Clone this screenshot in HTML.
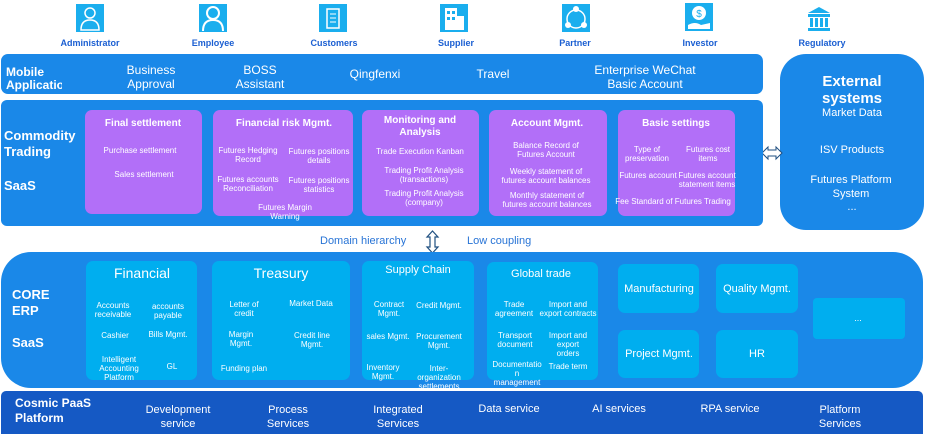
<!DOCTYPE html>
<html><head><meta charset="utf-8"><style>
*{margin:0;padding:0;box-sizing:border-box}
body{width:925px;height:434px;background:#fff;position:relative;overflow:hidden;font-family:"Liberation Sans",Arial,sans-serif;color:#fff}
.a{position:absolute}
.t{position:absolute;transform:translateX(-50%);text-align:center;white-space:nowrap;line-height:1.15}
.s{font-size:8px}
.blue{background:#1a88e8}
.pur{background:#b26ff8;border-radius:7px}
.lb{background:#00aeef;border-radius:7px}
.ic{position:absolute;width:28px;height:28px;background:#1aaeee}
.il{position:absolute;transform:translateX(-50%);font-size:9px;font-weight:bold;color:#1b5fd2;white-space:nowrap}
.b{font-weight:bold}
</style></head><body>

<!-- icons -->
<div class="ic" style="left:76px;top:4px"></div><div class="il" style="left:90px;top:38px">Administrator</div>
<div class="ic" style="left:199px;top:4px"></div><div class="il" style="left:213px;top:38px">Employee</div>
<div class="ic" style="left:319px;top:4px"></div><div class="il" style="left:334px;top:38px">Customers</div>
<div class="ic" style="left:440px;top:4px"></div><div class="il" style="left:456px;top:38px">Supplier</div>
<div class="ic" style="left:562px;top:4px"></div><div class="il" style="left:575px;top:38px">Partner</div>
<div class="ic" style="left:685px;top:3px"></div><div class="il" style="left:700px;top:38px">Investor</div>
<div class="ic" style="left:805px;top:4px;background:#fff"><svg width="28" height="28"><path d="M3 9 L14 3 L25 9 Z M3 10h22v3H3z M5 14h3v9H5z M10 14h3v9h-3z M15 14h3v9h-3z M20 14h3v9h-3z M3 24h22v3H3z" fill="#1aaeee"/></svg></div><div class="il" style="left:822px;top:38px">Regulatory</div>
<svg class="a" style="left:76px;top:4px" width="28" height="28"><circle cx="14" cy="9" r="5" fill="none" stroke="#fff" stroke-width="1.5"/><path d="M5 26 Q5 16 14 16 Q23 16 23 26 Z" fill="none" stroke="#fff" stroke-width="1.5"/></svg>
<svg class="a" style="left:199px;top:4px" width="28" height="28"><circle cx="14" cy="9" r="6" fill="none" stroke="#fff" stroke-width="2"/><path d="M4 27 Q4 16 14 16 Q24 16 24 27" fill="none" stroke="#fff" stroke-width="2"/></svg>
<svg class="a" style="left:319px;top:4px" width="28" height="28"><rect x="8" y="5" width="12" height="19" fill="none" stroke="#fff" stroke-width="1.5"/><path d="M11 10h6M11 14h6M11 18h6" stroke="#fff"/></svg>
<svg class="a" style="left:440px;top:4px" width="28" height="28"><rect x="5" y="4" width="12" height="22" fill="#fff"/><rect x="17" y="12" width="7" height="14" fill="#fff"/><path d="M7 7h3v3H7zM12 7h3v3h-3zM7 13h3v3H7zM12 13h3v3h-3z" fill="#1aaeee"/></svg>
<svg class="a" style="left:562px;top:4px" width="28" height="28"><circle cx="14" cy="15" r="9" fill="none" stroke="#fff" stroke-width="1.5"/><circle cx="14" cy="5" r="3" fill="#fff"/><circle cx="6" cy="21" r="3" fill="#fff"/><circle cx="22" cy="21" r="3" fill="#fff"/></svg>
<svg class="a" style="left:685px;top:3px" width="28" height="28"><circle cx="14" cy="10" r="7" fill="#fff"/><text x="14" y="14" font-size="10" fill="#1aaeee" text-anchor="middle" font-family="Liberation Sans">$</text><path d="M3 22 Q10 18 16 22 L25 20 L25 26 L3 26Z" fill="#fff"/></svg>

<!-- mobile bar -->
<div class="a blue" style="left:1px;top:54px;width:762px;height:40px;border-radius:7px"></div>
<div class="a b" style="left:6px;top:66px;font-size:12px;line-height:13px;width:56px;overflow:hidden;height:40px">Mobile Applicatio n</div>
<div class="t" style="left:151px;top:64px;font-size:12px">Business<br>Approval</div>
<div class="t" style="left:260px;top:64px;font-size:12px">BOSS<br>Assistant</div>
<div class="t" style="left:375px;top:68px;font-size:12px">Qingfenxi</div>
<div class="t" style="left:493px;top:68px;font-size:12px">Travel</div>
<div class="t" style="left:645px;top:64px;font-size:12px">Enterprise WeChat<br>Basic Account</div>

<!-- external -->
<div class="a blue" style="left:780px;top:54px;width:144px;height:176px;border-radius:26px"></div>
<div class="t b" style="left:852px;top:73px;font-size:15px;line-height:17px">External<br>systems</div>
<div class="t" style="left:852px;top:107px;font-size:11px">Market Data</div>
<div class="t" style="left:852px;top:144px;font-size:11px">ISV Products</div>
<div class="t" style="left:851px;top:173px;font-size:11px;line-height:14px">Futures Platform<br>System</div>
<div class="t" style="left:852px;top:201px;font-size:11px">...</div>
<svg class="a" style="left:761px;top:145px" width="22" height="16"><path d="M1 8 L7 2 V5 H15 V2 L21 8 L15 14 V11 H7 V14 Z" fill="#fff" stroke="#1f4f80" stroke-width="1"/></svg>

<!-- commodity -->
<div class="a blue" style="left:1px;top:100px;width:762px;height:126px;border-radius:6px"></div>
<div class="a b" style="left:4px;top:128px;font-size:13px;line-height:16px">Commodity<br>Trading</div>
<div class="a b" style="left:4px;top:178px;font-size:13px">SaaS</div>

<div class="a pur" style="left:85px;top:110px;width:117px;height:104px"></div>
<div class="t b" style="left:143px;top:118px;font-size:10px">Final settlement</div>
<div class="t s" style="left:140px;top:146px">Purchase settlement</div>
<div class="t s" style="left:144px;top:170px">Sales settlement</div>

<div class="a pur" style="left:213px;top:110px;width:140px;height:106px"></div>
<div class="t b" style="left:284px;top:118px;font-size:10px">Financial risk Mgmt.</div>
<div class="t s" style="left:248px;top:146px">Futures Hedging<br>Record</div>
<div class="t s" style="left:319px;top:147px">Futures positions<br>details</div>
<div class="t s" style="left:248px;top:175px">Futures accounts<br>Reconciliation</div>
<div class="t s" style="left:319px;top:176px">Futures positions<br>statistics</div>
<div class="t s" style="left:285px;top:203px">Futures Margin<br>Warning</div>

<div class="a pur" style="left:362px;top:110px;width:117px;height:106px"></div>
<div class="t b" style="left:420px;top:115px;font-size:10px;line-height:12px">Monitoring and<br>Analysis</div>
<div class="t s" style="left:420px;top:147px">Trade Execution Kanban</div>
<div class="t s" style="left:424px;top:166px">Trading Profit Analysis<br>(transactions)</div>
<div class="t s" style="left:424px;top:189px">Trading Profit Analysis<br>(company)</div>

<div class="a pur" style="left:489px;top:110px;width:118px;height:106px"></div>
<div class="t b" style="left:547px;top:118px;font-size:10px">Account Mgmt.</div>
<div class="t s" style="left:546px;top:141px">Balance Record  of<br>Futures Account</div>
<div class="t s" style="left:546px;top:167px">Weekly statement of<br>futures account balances</div>
<div class="t s" style="left:547px;top:191px">Monthly statement of<br>futures account balances</div>

<div class="a pur" style="left:618px;top:110px;width:117px;height:106px"></div>
<div class="t b" style="left:676px;top:118px;font-size:10px">Basic settings</div>
<div class="t s" style="left:647px;top:145px">Type of<br>preservation</div>
<div class="t s" style="left:708px;top:145px">Futures cost<br>items</div>
<div class="t s" style="left:648px;top:171px">Futures account</div>
<div class="t s" style="left:707px;top:171px">Futures account<br>statement items</div>
<div class="t s" style="left:673px;top:197px">Fee Standard of Futures Trading</div>

<!-- middle -->
<div class="a" style="left:320px;top:235px;font-size:11px;color:#2874d6">Domain hierarchy</div>
<svg class="a" style="left:425px;top:230px" width="15" height="24"><path d="M7.5 1 L13 7 H10 V17 H13 L7.5 23 L2 17 H5 V7 H2 Z" fill="#fff" stroke="#1f4f80" stroke-width="1.2"/></svg>
<div class="a" style="left:467px;top:235px;font-size:11px;color:#2874d6">Low coupling</div>

<!-- core erp -->
<div class="a blue" style="left:1px;top:252px;width:922px;height:136px;border-radius:30px"></div>
<div class="a b" style="left:12px;top:287px;font-size:13px;line-height:16px">CORE<br>ERP</div>
<div class="a b" style="left:12px;top:335px;font-size:13px">SaaS</div>

<div class="a lb" style="left:86px;top:261px;width:111px;height:119px"></div>
<div class="t" style="left:142px;top:265px;font-size:14px">Financial</div>
<div class="t s" style="left:113px;top:301px">Accounts<br>receivable</div>
<div class="t s" style="left:168px;top:302px">accounts<br>payable</div>
<div class="t s" style="left:115px;top:331px">Cashier</div>
<div class="t s" style="left:168px;top:330px">Bills Mgmt.</div>
<div class="t s" style="left:119px;top:355px">Intelligent<br>Accounting<br>Platform</div>
<div class="t s" style="left:172px;top:362px">GL</div>

<div class="a lb" style="left:212px;top:261px;width:138px;height:119px"></div>
<div class="t" style="left:281px;top:265px;font-size:14px">Treasury</div>
<div class="t s" style="left:244px;top:300px">Letter of<br>credit</div>
<div class="t s" style="left:311px;top:299px">Market Data</div>
<div class="t s" style="left:241px;top:330px">Margin<br>Mgmt.</div>
<div class="t s" style="left:312px;top:331px">Credit line<br>Mgmt.</div>
<div class="t s" style="left:244px;top:364px">Funding plan</div>

<div class="a lb" style="left:362px;top:261px;width:112px;height:119px"></div>
<div class="t" style="left:418px;top:264px;font-size:11px">Supply Chain</div>
<div class="t s" style="left:389px;top:300px">Contract<br>Mgmt.</div>
<div class="t s" style="left:439px;top:301px">Credit Mgmt.</div>
<div class="t s" style="left:388px;top:332px">sales Mgmt.</div>
<div class="t s" style="left:439px;top:332px">Procurement<br>Mgmt.</div>
<div class="t s" style="left:383px;top:363px">Inventory<br>Mgmt.</div>
<div class="t s" style="left:439px;top:364px">Inter-<br>organization<br>settlements</div>

<div class="a lb" style="left:487px;top:262px;width:111px;height:118px"></div>
<div class="t" style="left:541px;top:268px;font-size:11px">Global trade</div>
<div class="t s" style="left:514px;top:300px">Trade<br>agreement</div>
<div class="t s" style="left:568px;top:300px">Import and<br>export contracts</div>
<div class="t s" style="left:515px;top:331px">Transport<br>document</div>
<div class="t s" style="left:568px;top:331px">Import and<br>export<br>orders</div>
<div class="t s" style="left:517px;top:360px">Documentatio<br>n<br>management</div>
<div class="t s" style="left:568px;top:362px">Trade term</div>

<div class="a lb" style="left:618px;top:264px;width:81px;height:49px"></div>
<div class="t" style="left:659px;top:283px;font-size:11px">Manufacturing</div>
<div class="a lb" style="left:716px;top:264px;width:82px;height:49px"></div>
<div class="t" style="left:757px;top:283px;font-size:11px">Quality Mgmt.</div>
<div class="a lb" style="left:618px;top:330px;width:81px;height:48px"></div>
<div class="t" style="left:659px;top:348px;font-size:11px">Project Mgmt.</div>
<div class="a lb" style="left:716px;top:330px;width:82px;height:48px"></div>
<div class="t" style="left:757px;top:348px;font-size:11px">HR</div>
<div class="a lb" style="left:813px;top:298px;width:92px;height:41px;border-radius:4px"></div>
<div class="t" style="left:858px;top:313px;font-size:9px">...</div>

<!-- paas -->
<div class="a" style="left:1px;top:391px;width:922px;height:43px;background:#1559c4;border-radius:5px 5px 0 0"></div>
<div class="a b" style="left:15px;top:396px;font-size:12px;line-height:15px">Cosmic PaaS<br>Platform</div>
<div class="t" style="left:178px;top:403px;font-size:11px;line-height:14px">Development<br>service</div>
<div class="t" style="left:288px;top:403px;font-size:11px;line-height:14px">Process<br>Services</div>
<div class="t" style="left:398px;top:403px;font-size:11px;line-height:14px">Integrated<br>Services</div>
<div class="t" style="left:509px;top:403px;font-size:11px">Data service</div>
<div class="t" style="left:619px;top:403px;font-size:11px">AI services</div>
<div class="t" style="left:730px;top:403px;font-size:11px">RPA service</div>
<div class="t" style="left:840px;top:403px;font-size:11px;line-height:14px">Platform<br>Services</div>
</body></html>
